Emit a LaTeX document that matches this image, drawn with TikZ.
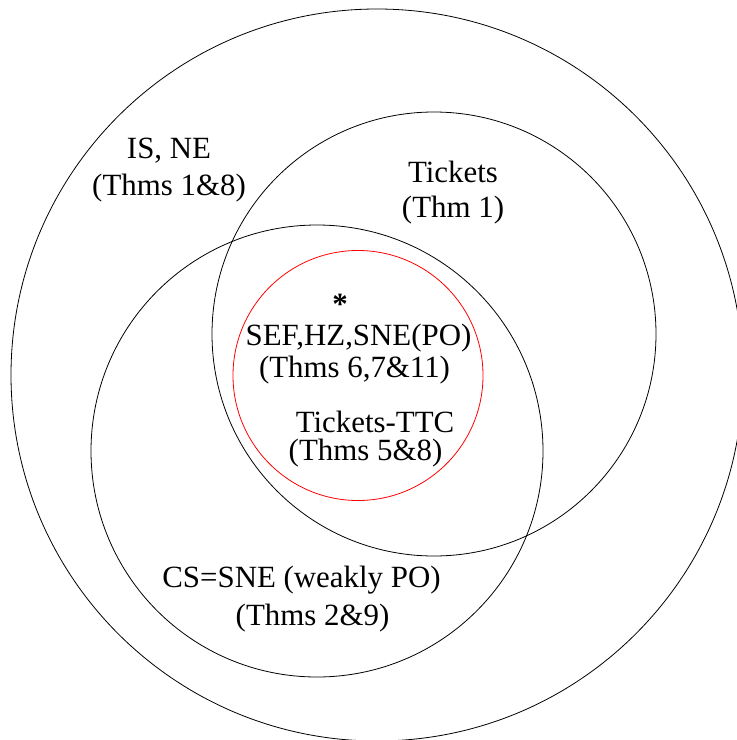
\documentclass[tikz,border=0pt]{standalone}
\usepackage{fontspec}
\setmainfont{Liberation Serif}
\begin{document}
\begin{tikzpicture}[x=1bp,y=-1bp,line width=0.8bp,
  lbl/.style={anchor=base,inner sep=0pt,font=\fontsize{31}{37}\selectfont}]
  \useasboundingbox (0,0) rectangle (737,740);
  \clip (0,0) rectangle (737,740);
  \coordinate (O) at (377,375);
  \coordinate (T) at (434,334);
  \coordinate (C) at (317,451);
  \coordinate (R) at (358,375.5);
  \draw (O) circle[radius=366];
  \draw (T) circle[radius=222];
  \draw (C) circle[radius=226];
  \draw[red] (R) circle[radius=125];

  \node[lbl] (isne) at (169,158) {IS, NE};
  \node[lbl] (isnethm) at (169,195) {(Thms 1\&8)};
  \node[lbl] (tick) at (453,182) {Tickets};
  \node[lbl] (tickthm) at (453,217) {(Thm 1)};
  \node[lbl] (star) at (340,314) {\textbf{*}};
  \node[lbl] (sef) at (358.5,345) {SEF,HZ,SNE(PO)};
  \node[lbl] (sefthm) at (354.5,377) {(Thms 6,7\&11)};
  \node[lbl] (ttc) at (375,432) {Tickets-TTC};
  \node[lbl] (ttcthm) at (365.5,460) {(Thms 5\&8)};
  \node[lbl] (cs) at (301.5,587) {CS=SNE (weakly PO)};
  \node[lbl] (csthm) at (312.5,625) {(Thms 2\&9)};
\end{tikzpicture}
\end{document}
